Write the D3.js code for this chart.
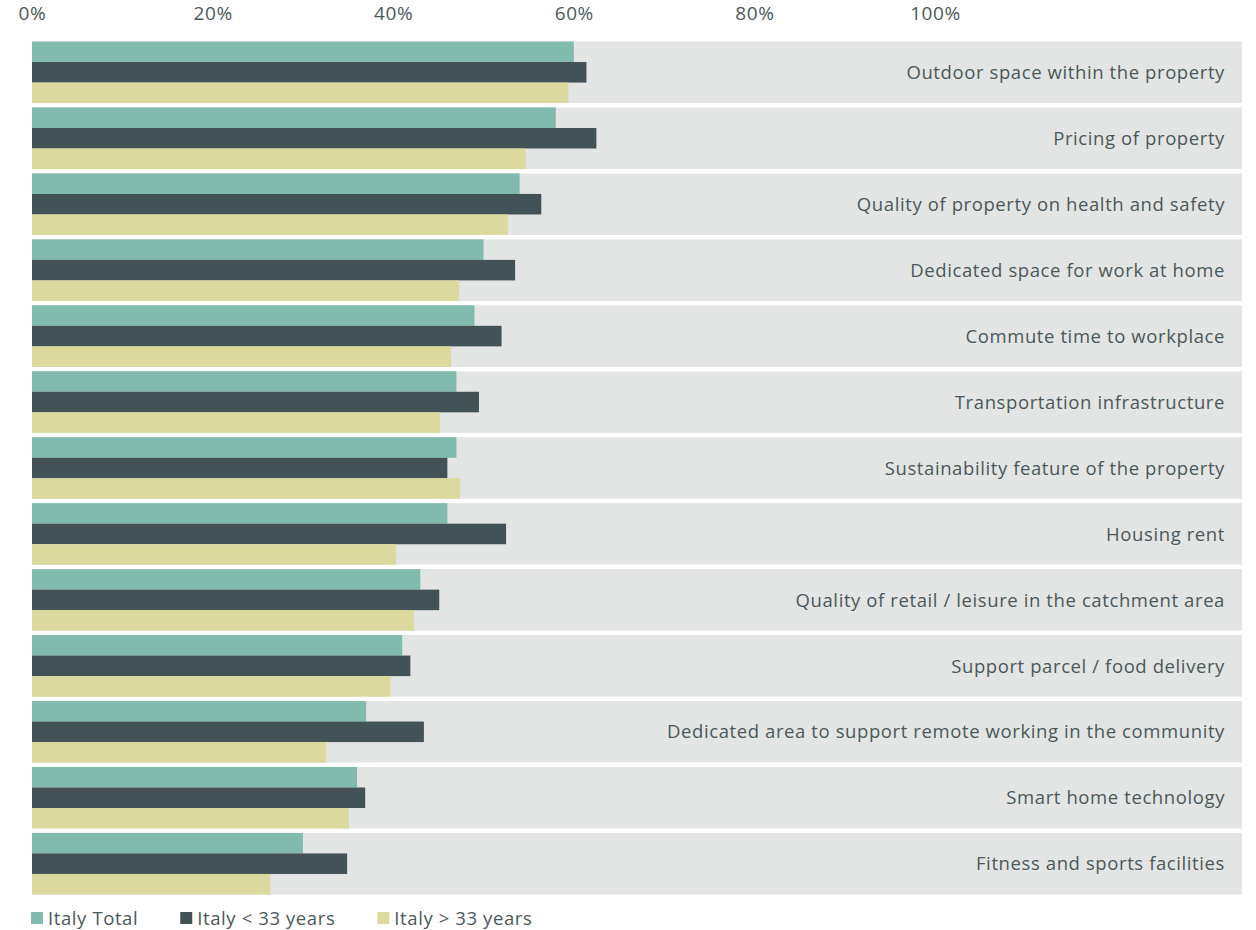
<!DOCTYPE html>
<html>
<head>
<meta charset="utf-8">
<script src="https://cdn.jsdelivr.net/npm/d3@7"></script>
<style>
	html, body { margin: 0; padding: 0; background: #ffffff; }
	svg { display: block; }
	text { font-family: "Open Sans", "Noto Sans", sans-serif; fill: #4b5859; letter-spacing: 0.6px; }
</style>
</head>
<body>
<div id="chart"></div>
<script>
const categories = [
	"Outdoor space within the property",
	"Pricing of property",
	"Quality of property on health and safety",
	"Dedicated space for work at home",
	"Commute time to workplace",
	"Transportation infrastructure",
	"Sustainability feature of the property",
	"Housing rent",
	"Quality of retail / leisure in the catchment area",
	"Support parcel / food delivery",
	"Dedicated area to support remote working in the community",
	"Smart home technology",
	"Fitness and sports facilities"
];

const seriesNames = ["Italy Total", "Italy < 33 years", "Italy > 33 years"];
const seriesColors = ["#80bbad", "#435256", "#dbd99d"];

const italyTotal = [60, 58, 54, 50, 49, 47, 47, 46, 43, 41, 37, 36, 30];
const italyUnder33 = [61.4, 62.5, 56.4, 53.5, 52, 49.5, 46, 52.5, 45.1, 41.9, 43.4, 36.9, 34.9];
const italyOver33 = [59.4, 54.7, 52.7, 47.3, 46.4, 45.2, 47.4, 40.3, 42.3, 39.7, 32.6, 35.1, 26.4];

const tickValues = [0, 20, 40, 60, 80, 100];

function drawChart() {
	const width = 1256, height = 930;

	const svg = d3.select("#chart").append("svg")
		.attr("width", width)
		.attr("height", height);

	// percent scale, 0 sits on the left edge of the bars
	const x = d3.scaleLinear().domain([0, 100]).range([32, 935]);

	const y = d3.scaleBand()
		.domain(categories)
		.range([41.5, 894.5])
		.paddingInner(0.066)
		.paddingOuter(0);

	const ySub = d3.scaleBand()
		.domain(seriesNames)
		.range([0, y.bandwidth()])
		.padding(0);

	const rows = categories.map((c, i) => ({
		name: c,
		values: [italyTotal[i], italyUnder33[i], italyOver33[i]]
	}));

	// top axis, labels only
	const axis = svg.append("g")
		.attr("transform", "translate(0,20)")
		.call(d3.axisTop(x).tickValues(tickValues).tickFormat(d => d + "%").tickSize(0).tickPadding(0));
	axis.select(".domain").remove();
	axis.selectAll("text")
		.attr("y", 0)
		.attr("dy", 0)
		.style("font-size", "19px")
		.style("font-family", "'Open Sans', sans-serif")
		.style("fill", "#4b5859");

	const row = svg.selectAll("g.row")
		.data(rows)
		.enter().append("g")
		.attr("class", "row")
		.attr("transform", d => "translate(0," + y(d.name) + ")");

	// grey background band
	row.append("rect")
		.attr("x", x(0))
		.attr("y", 0)
		.attr("width", 1242 - x(0))
		.attr("height", y.bandwidth())
		.style("fill", "#e3e5e4");

	row.selectAll("rect.bar")
		.data(d => d.values.map((v, j) => ({ key: seriesNames[j], value: v, color: seriesColors[j] })))
		.enter().append("rect")
		.attr("class", "bar")
		.attr("x", x(0))
		.attr("y", d => ySub(d.key))
		.attr("width", d => x(d.value) - x(0))
		.attr("height", ySub.bandwidth())
		.style("fill", d => d.color);

	row.append("text")
		.attr("x", 1225)
		.attr("y", y.bandwidth() / 2)
		.attr("dy", "0.36em")
		.attr("text-anchor", "end")
		.style("font-size", "18.5px")
		.text(d => d.name);

	// legend
	const legend = svg.append("g").attr("transform", "translate(31,918)");
	let lx = 0;
	seriesNames.forEach((name, i) => {
		const item = legend.append("g").attr("transform", "translate(" + lx + ",0)");
		item.append("rect")
			.attr("x", 0)
			.attr("y", -6)
			.attr("width", 12)
			.attr("height", 12)
			.style("fill", seriesColors[i]);
		const t = item.append("text")
			.attr("x", 17)
			.attr("y", 0)
			.attr("dy", "0.36em")
			.style("font-size", "18.5px")
			.text(name);
		lx += 17 + t.node().getComputedTextLength() + 42;
	});
}

drawChart();
</script>
</body>
</html>
